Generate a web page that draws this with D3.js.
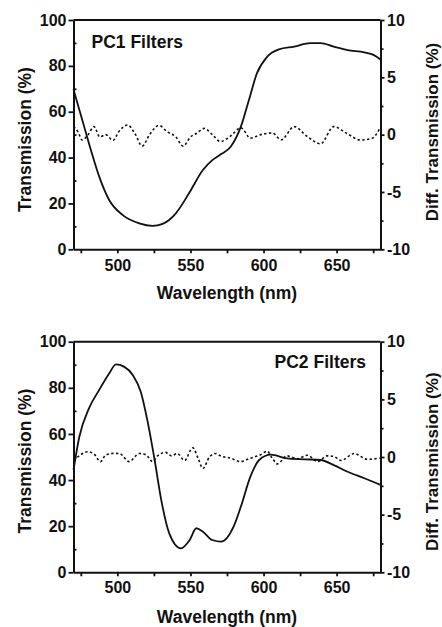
<!DOCTYPE html>
<html><head><meta charset="utf-8">
<script src="https://cdn.jsdelivr.net/npm/d3@7"></script>
<style>
body{margin:0;background:#fff}
text{font-family:"Liberation Sans",Arial,sans-serif;font-weight:bold;fill:#111}
</style></head>
<body><svg id="c" width="442" height="627"></svg>
<script>
// ---- data ----
const wlPC1 = [470,472.7,477.3,481.9,487.6,494.4,503.5,515,524,531,540,549,558.5,565,570.5,577.5,584.5,590,595.5,602.5,610.5,621,632,639,648,657.5,669,675.5,680];
const transPC1 = [69.8,63.7,53.5,43.3,31.7,21.5,15,11.3,10.2,11.1,15.7,24.4,34.6,38.9,41.3,44.7,53.5,65.1,76.8,84,87.2,88.4,89.9,89.9,88.4,86.9,85.9,84.7,82.8];
const diffWlPC1 = [470,473,476,480,484,488,492,497,501,507,512,517,522,528.5,534,540,545,550,554,559.5,565,570.5,577,584.5,591,598,606,612,621,630,639,648,657,666.5,674.5,679.5];
const diffPC1 = [0.7,0.26,-0.47,0,0.7,-0.2,0,-0.5,0.26,0.84,0.1,-1.0,0,0.8,0.26,-0.2,-1.0,-0.2,0.1,0.55,0,-0.6,-0.17,0.6,-0.3,0,0.15,-0.45,0.7,-0.17,-0.8,0.7,0.1,-0.47,-0.3,0.55];

const wlPC2 = [470,474,480.5,487.5,494.5,499,504.5,510.5,516,520.5,525.5,530,535.5,543.5,549.5,554,558.5,565,571,579.5,584.5,591,597,605,616,628,639,648,657.5,669,680];
const transPC2 = [44.4,58.8,71,79,86.3,90.2,89.2,85.6,78.3,66,48.7,31.4,16.9,10.4,14,19.1,17.6,14,13.3,19.8,28.5,41.5,48.7,51,49.4,49,48.7,46.5,43.6,40.8,37.9];
const diffWlPC2 = [470,475,479.5,484,488.5,492,498,501.5,508,515,519.5,524,527.5,533,537,541,546,551.5,555.5,558.5,563,567.5,570.5,577.5,584,591,598,602.5,606,609.5,616,623,630,637,643.5,648,653,662,671,679.5];
const diffPC2 = [-0.3,0.2,0.46,0.26,-0.4,0.17,0.32,0.3,-0.4,0.3,0.2,-0.4,0.1,0.4,0.1,0.3,-0.3,0.8,-0.2,-1.0,0,0.3,0.1,-0.1,-0.4,-0.1,0.2,0.5,-0.1,-0.6,0.1,-0.15,0.15,-0.4,0.1,0.05,-0.3,0.3,-0.2,-0.1];

const xTicks = [475,500,525,550,575,600,625,650,675];
const xLabels = [500,550,600,650];
const leftTicks = [0,20,40,60,80,100];
const leftMinor = [10,30,50,70,90];
const rightTicks = [-10,-5,0,5,10];
const rightMinor = [-7.5,-2.5,2.5,7.5];
const panelTitles = ["PC1 Filters","PC2 Filters"];
const xTitle = "Wavelength (nm)";
const yLeftTitle = "Transmission (%)";
const yRightTitle = "Diff. Transmission (%)";

// ---- drawing ----
const svg = d3.select("#c");
const X0 = 73.5, X1 = 380.5;

function panel(cfg){
  const {top,bottom,wl,tr,dwl,dv,title,titleX,titleY,titleAnchor,xLabPad,xTitleY,yTitleCy,rTitleCy} = cfg;
  const g = svg.append("g");
  const x = d3.scaleLinear().domain([470,680]).range([X0, X1]);
  const yL = d3.scaleLinear().domain([0,100]).range([bottom, top]);
  const yR = d3.scaleLinear().domain([-10,10]).range([bottom, top]);

  // curves
  const solid = d3.line().x((d,i)=>x(wl[i])).y(d=>yL(d)).curve(d3.curveMonotoneX);
  g.append("path").attr("d", solid(tr)).attr("fill","none").attr("stroke","#111").attr("stroke-width",1.8);
  const dash = d3.line().x((d,i)=>x(dwl[i])).y(d=>yR(d)).curve(d3.curveMonotoneX);
  g.append("path").attr("d", dash(dv)).attr("fill","none").attr("stroke","#111")
    .attr("stroke-width",1.6).attr("stroke-dasharray","2.4,2.4");

  const fs = "16px";
  // left axis
  const la = g.append("g").attr("transform",`translate(${X0},0)`)
    .call(d3.axisLeft(yL).tickValues(leftTicks).tickSize(5).tickPadding(2).tickSizeOuter(0));
  g.append("g").attr("transform",`translate(${X0},0)`)
    .call(d3.axisLeft(yL).tickValues(leftMinor).tickSize(-3).tickFormat("").tickSizeOuter(0))
    .select(".domain").remove();
  // right axis
  const ra = g.append("g").attr("transform",`translate(${X1},0)`)
    .call(d3.axisRight(yR).tickValues(rightTicks).tickSize(4).tickPadding(2.5).tickSizeOuter(0)
      .tickFormat(d=>String(d).replace("−","-")));
  g.append("g").attr("transform",`translate(${X1},0)`)
    .call(d3.axisRight(yR).tickValues(rightMinor).tickSize(3).tickFormat("").tickSizeOuter(0))
    .select(".domain").remove();
  // bottom axis
  const ba = g.append("g").attr("transform",`translate(0,${bottom})`)
    .call(d3.axisBottom(x).tickValues(xTicks).tickSize(4).tickPadding(xLabPad).tickSizeOuter(0)
      .tickFormat(d=>xLabels.includes(d)?d:""));
  // top frame
  g.append("line").attr("x1",X0).attr("x2",X1).attr("y1",top).attr("y2",top)
    .attr("stroke","#111").attr("stroke-width",2);

  [la,ra,ba].forEach(a=>{
    a.selectAll("path.domain").attr("stroke","#111").attr("stroke-width",2);
    a.selectAll("text").style("font-size",fs).style("font-family",'"Liberation Sans",Arial,sans-serif')
      .style("font-weight","bold").attr("fill","#111");
  });
  g.selectAll(".tick line").attr("stroke","#111").attr("stroke-width",1.8);

  // panel title
  g.append("text").attr("x",titleX).attr("y",titleY).attr("text-anchor",titleAnchor)
    .style("font-size","17.5px").text(title);
  // axis titles
  g.append("text").attr("x",(X0+X1)/2).attr("y",xTitleY).attr("text-anchor","middle")
    .style("font-size","17.5px").text(xTitle);
  g.append("text").attr("transform",`translate(30.5,${yTitleCy}) rotate(-90)`).attr("text-anchor","middle")
    .style("font-size","17.5px").text(yLeftTitle);
  g.append("text").attr("transform",`translate(437.5,${rTitleCy}) rotate(-90)`).attr("text-anchor","middle")
    .style("font-size","17px").text(yRightTitle);
}

panel({top:20, bottom:249.3, wl:wlPC1, tr:transPC1, dwl:diffWlPC1, dv:diffPC1,
  title:panelTitles[0], titleX:91.5, titleY:47.5, titleAnchor:"start", xLabPad:6,
  xTitleY:298.5, yTitleCy:139.5, rTitleCy:132});
panel({top:341.7, bottom:572.3, wl:wlPC2, tr:transPC2, dwl:diffWlPC2, dv:diffPC2,
  title:panelTitles[1], titleX:366, titleY:367.7, titleAnchor:"end", xLabPad:5,
  xTitleY:622.5, yTitleCy:461, rTitleCy:461.7});
</script>
</body></html>
